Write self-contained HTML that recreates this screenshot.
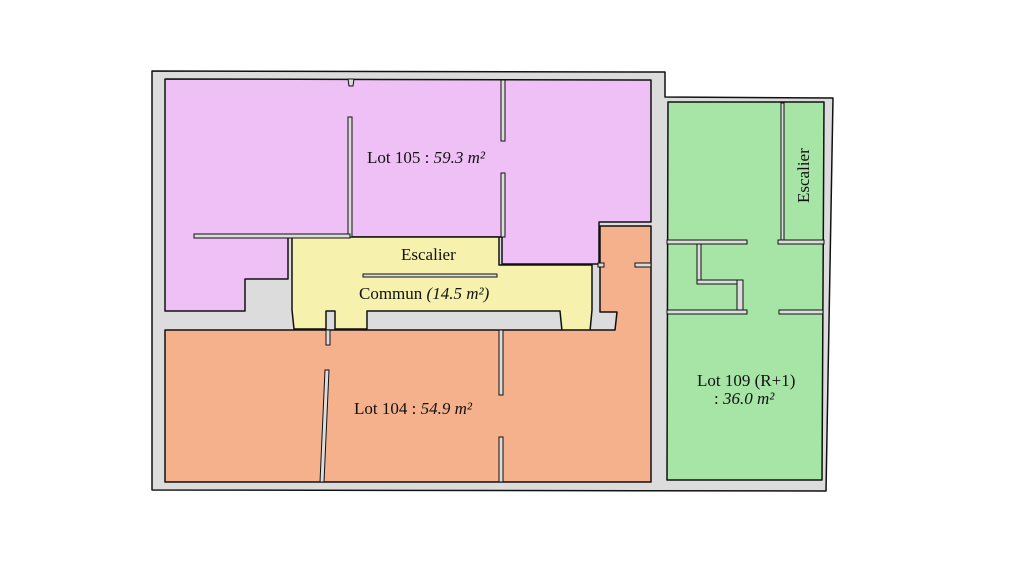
<!DOCTYPE html>
<html><head><meta charset="utf-8"><style>
html,body{margin:0;padding:0;background:#fff;width:1019px;height:563px;overflow:hidden}
text{font-family:"Liberation Serif","DejaVu Serif",serif;fill:#111}
</style></head><body>
<svg width="1019" height="563" viewBox="0 0 1019 563" xmlns="http://www.w3.org/2000/svg">
<g stroke="#111" stroke-width="1.5" stroke-linejoin="round">
<polygon points="152,71 665,72 665,97 833,98 826,491 152,490" fill="#dcdcdc"/>
<polygon points="165,79 651,80 651,222 599,222 599,264 502,264 502,237 292,237 288,238 288,279 245,279 245,311 165,311" fill="#efc0f5"/>
<polygon points="292,237 499,237 499,265 592,265 592,310 590,331 562,331 560,311 367,311 367,329 335,329 335,311 326,311 326,329 294,329 292,310" fill="#f7f1ae"/>
<polygon points="600,226 651,226 651,482 165,482 165,330 615,330 617,312 600,312" fill="#f5b18c"/>
<polygon points="668,102 824,102 822,480 667,480" fill="#a6e5a6"/>
</g>
<g fill="#dcdcdc" stroke="#111" stroke-width="1">
<rect x="348" y="117" width="4" height="120"/>
<rect x="194" y="234" width="156" height="4"/>
<rect x="501" y="80" width="4" height="61"/>
<rect x="501" y="173" width="4" height="64"/>
<polygon points="348,79 354,79 353,86 349,86"/>
<rect x="363" y="274" width="134" height="3"/>
<rect x="326" y="330" width="4" height="15"/>
<polygon points="325,370 329,370 324,482 320,482"/>
<rect x="499" y="330" width="4" height="65"/>
<rect x="499" y="437" width="4" height="45"/>
<rect x="598" y="263" width="6" height="4"/>
<rect x="635" y="263" width="16" height="4"/>
<rect x="667" y="240" width="80" height="4"/>
<rect x="697" y="244" width="4" height="37"/>
<rect x="697" y="280" width="43" height="4"/>
<rect x="737" y="280" width="6" height="33"/>
<rect x="667" y="310" width="80" height="4"/>
<rect x="779" y="310" width="44" height="4"/>
<rect x="781" y="103" width="3" height="140"/>
<rect x="778" y="240" width="46" height="4"/>
</g>
<text x="367" y="163" font-size="17">Lot 105 : <tspan font-style="italic">59.3 m²</tspan></text>
<text x="401" y="260" font-size="17">Escalier</text>
<text x="359" y="299" font-size="17">Commun  <tspan font-style="italic">(14.5 m²)</tspan></text>
<text x="354" y="414" font-size="17">Lot 104 : <tspan font-style="italic">54.9 m²</tspan></text>
<text x="697" y="386" font-size="17">Lot 109 (R+1)</text>
<text x="714" y="404" font-size="17">: <tspan font-style="italic">36.0 m²</tspan></text>
<text x="0" y="0" font-size="17" transform="translate(809,203) rotate(-90)">Escalier</text>
</svg>
</body></html>
